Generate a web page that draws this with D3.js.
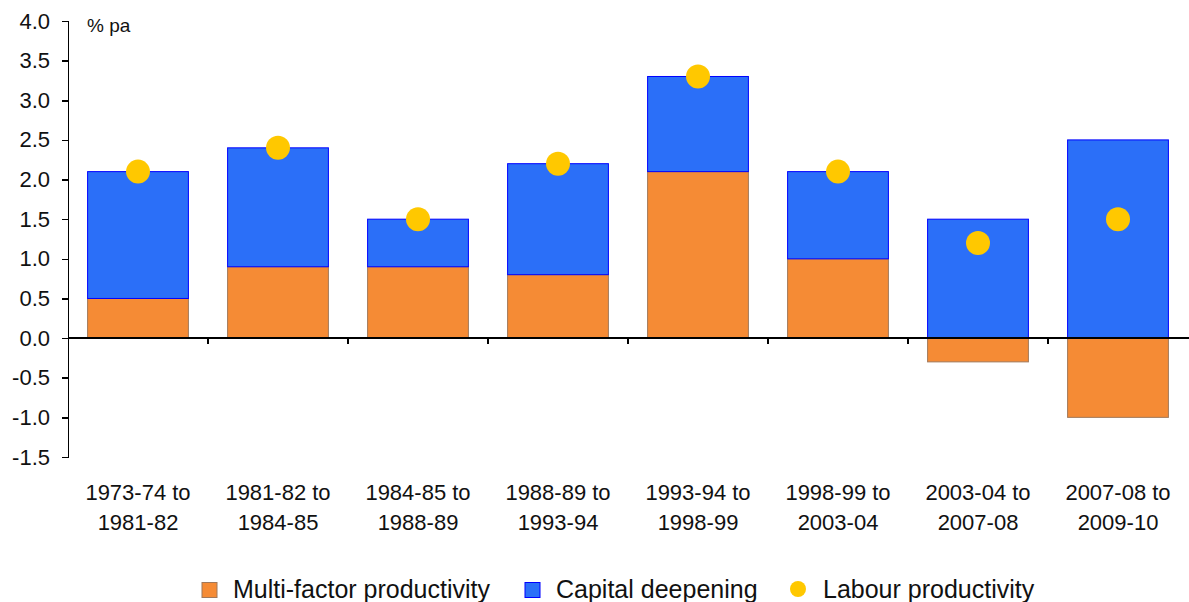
<!DOCTYPE html>
<html>
<head>
    <title>Labour productivity growth</title>
    <style>
        html, body {
            margin: 0;
            padding: 0;
            background: #fff;
        }
        svg text {
            font-family: Arial, "Liberation Sans", sans-serif;
            fill: #111;
        }
        .axis path, .axis line {
            stroke: #000;
            stroke-width: 1.5;
            shape-rendering: crispEdges;
        }
    </style>
    <script src="https://d3js.org/d3.v7.min.js"></script>
</head>
<body>
<svg id="chart" width="1189" height="602"></svg>
<script>
// periods (two-line labels)
const periods = [
    ["1973-74 to", "1981-82"],
    ["1981-82 to", "1984-85"],
    ["1984-85 to", "1988-89"],
    ["1988-89 to", "1993-94"],
    ["1993-94 to", "1998-99"],
    ["1998-99 to", "2003-04"],
    ["2003-04 to", "2007-08"],
    ["2007-08 to", "2009-10"]
];
const multiFactor = [0.5, 0.9, 0.9, 0.8, 2.1, 1.0, -0.3, -1.0];
const capitalDeepening = [1.6, 1.5, 0.6, 1.4, 1.2, 1.1, 1.5, 2.5];
const labourProductivity = [2.1, 2.4, 1.5, 2.2, 3.3, 2.1, 1.2, 1.5];
const yTicks = [-1.5, -1.0, -0.5, 0.0, 0.5, 1.0, 1.5, 2.0, 2.5, 3.0, 3.5, 4.0];
const legendItems = ["Multi-factor productivity", "Capital deepening", "Labour productivity"];

const orange = "#f58b35", orangeEdge = "#a0785a";
const blue = "#2b6ff8", blueEdge = "#0000ff";
const gold = "#ffc800";

const svg = d3.select("#chart");
const plotLeft = 68, plotRight = 1188, plotTop = 21, plotBottom = 457;

const x = d3.scaleBand()
    .domain(d3.range(periods.length))
    .range([plotLeft, plotRight])
    .paddingInner(0.28)
    .paddingOuter(0.14);

const y = d3.scaleLinear()
    .domain([-1.5, 4])
    .range([plotBottom, plotTop]);

const rows = periods.map((p, i) => ({
    i: i,
    mfp: multiFactor[i],
    cap: capitalDeepening[i],
    lp: labourProductivity[i]
}));

// multi-factor productivity
svg.append("g").selectAll("rect")
    .data(rows)
    .enter().append("rect")
    .attr("x", d => x(d.i))
    .attr("width", x.bandwidth())
    .attr("y", d => y(Math.max(d.mfp, 0)))
    .attr("height", d => Math.abs(y(d.mfp) - y(0)))
    .attr("fill", orange)
    .attr("stroke", orangeEdge)
    .attr("stroke-width", 1);

// capital deepening stacked on positive part
svg.append("g").selectAll("rect")
    .data(rows)
    .enter().append("rect")
    .attr("x", d => x(d.i))
    .attr("width", x.bandwidth())
    .attr("y", d => y(Math.max(d.mfp, 0) + d.cap))
    .attr("height", d => y(Math.max(d.mfp, 0)) - y(Math.max(d.mfp, 0) + d.cap))
    .attr("fill", blue)
    .attr("stroke", blueEdge)
    .attr("stroke-width", 1);

// y axis
const yAxis = d3.axisLeft(y)
    .tickValues(yTicks)
    .tickFormat(d3.format(".1f"))
    .tickSizeInner(6)
    .tickSizeOuter(6)
    .tickPadding(12);
const gy = svg.append("g")
    .attr("class", "axis")
    .attr("transform", "translate(" + plotLeft + ",0)")
    .call(yAxis);
gy.selectAll("text")
    .attr("font-size", "22px")
    .text(d => d < 0 ? "-" + Math.abs(d).toFixed(1) : d.toFixed(1));

// x axis at zero
const boundaries = d3.range(1, periods.length).map(i => x(i) - x.step() * x.paddingInner() / 2);
const gx = svg.append("g").attr("class", "axis");
gx.append("line")
    .attr("x1", plotLeft).attr("x2", 1189)
    .attr("y1", y(0)).attr("y2", y(0));
gx.selectAll(".tick")
    .data(boundaries)
    .enter().append("line")
    .attr("x1", d => d).attr("x2", d => d)
    .attr("y1", y(0)).attr("y2", y(0) + 6);

// category labels
const labels = svg.append("g").selectAll("text")
    .data(periods)
    .enter().append("text")
    .attr("text-anchor", "middle")
    .attr("font-size", "22px")
    .attr("x", (d, i) => x(i) + x.bandwidth() / 2)
    .attr("y", 500);
labels.append("tspan")
    .attr("x", (d, i) => x(i) + x.bandwidth() / 2)
    .text(d => d[0]);
labels.append("tspan")
    .attr("x", (d, i) => x(i) + x.bandwidth() / 2)
    .attr("dy", 30)
    .text(d => d[1]);

// labour productivity dots
svg.append("g").selectAll("circle")
    .data(rows)
    .enter().append("circle")
    .attr("cx", d => x(d.i) + x.bandwidth() / 2)
    .attr("cy", d => y(d.lp))
    .attr("r", 12)
    .attr("fill", gold);

// unit label
svg.append("text")
    .attr("x", 87)
    .attr("y", 32)
    .attr("font-size", "19px")
    .text("% pa");

// legend
const legend = svg.append("g");
const lx = [202, 525, 790];
const ly = 590;
legend.append("rect")
    .attr("x", lx[0]).attr("y", ly - 7.5)
    .attr("width", 15).attr("height", 15)
    .attr("fill", orange).attr("stroke", orangeEdge);
legend.append("rect")
    .attr("x", lx[1]).attr("y", ly - 7.5)
    .attr("width", 15).attr("height", 15)
    .attr("fill", blue).attr("stroke", blueEdge);
legend.append("circle")
    .attr("cx", lx[2] + 8).attr("cy", ly - 1)
    .attr("r", 8)
    .attr("fill", gold);
legend.selectAll("text.leg")
    .data(legendItems)
    .enter().append("text")
    .attr("class", "leg")
    .attr("x", (d, i) => lx[i] + (i === 2 ? 33 : 31))
    .attr("y", ly + 8)
    .attr("font-size", "25px")
    .text(d => d);
</script>
</body>
</html>
